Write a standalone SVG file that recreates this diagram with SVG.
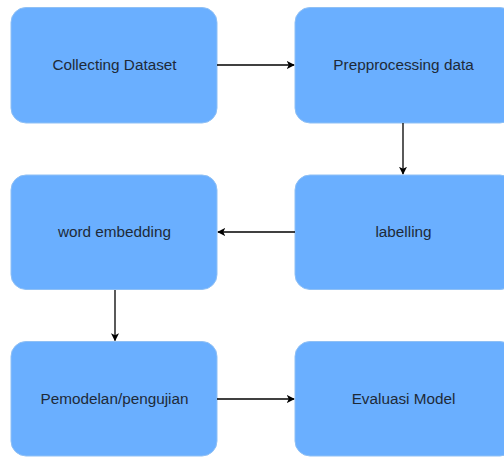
<svg xmlns="http://www.w3.org/2000/svg" width="504" height="457" viewBox="0 0 504 457">
<style>
.box{fill:#6AAFFF;stroke:#8FC0F5;stroke-width:1}
.lbl{font-family:"Liberation Sans",Arial,sans-serif;font-size:15.3px;fill:#1E2A38;text-anchor:middle;dominant-baseline:central}
.edge{stroke:#000;stroke-width:1.3;fill:none;marker-end:url(#ah)}
</style>
<defs>
<marker id="ah" viewBox="0 0 10 10" refX="9" refY="5" markerWidth="8" markerHeight="8" markerUnits="userSpaceOnUse" orient="auto">
<path d="M0,0 L10,5 L0,10 L2.5,5 Z" fill="#000"/>
</marker>
</defs>
<rect width="504" height="457" fill="#fff"/>
<g id="n1"><rect class="box" x="11" y="7.5" width="206" height="115.5" rx="15"/><text class="lbl" x="114.5" y="64">Collecting Dataset</text></g>
<g id="n2"><rect class="box" x="295" y="7.5" width="220" height="115.5" rx="15"/><text class="lbl" x="403.5" y="64">Prepprocessing data</text></g>
<g id="n3"><rect class="box" x="295" y="175" width="220" height="114.5" rx="15"/><text class="lbl" x="403.5" y="231">labelling</text></g>
<g id="n4"><rect class="box" x="11" y="175" width="206" height="114.5" rx="15"/><text class="lbl" x="114.5" y="231">word embedding</text></g>
<g id="n5"><rect class="box" x="11" y="341.5" width="206" height="114.5" rx="15"/><text class="lbl" x="114.5" y="398">Pemodelan/pengujian</text></g>
<g id="n6"><rect class="box" x="295" y="341.5" width="220" height="114.5" rx="15"/><text class="lbl" x="403.5" y="398">Evaluasi Model</text></g>
<g id="edges">
<line class="edge" x1="217" y1="65" x2="294" y2="65"/>
<line class="edge" x1="403" y1="123" x2="403" y2="174"/>
<line class="edge" x1="295" y1="232" x2="218" y2="232"/>
<line class="edge" x1="115" y1="290" x2="115" y2="340.5"/>
<line class="edge" x1="217" y1="399" x2="294" y2="399"/>
</g>
</svg>
